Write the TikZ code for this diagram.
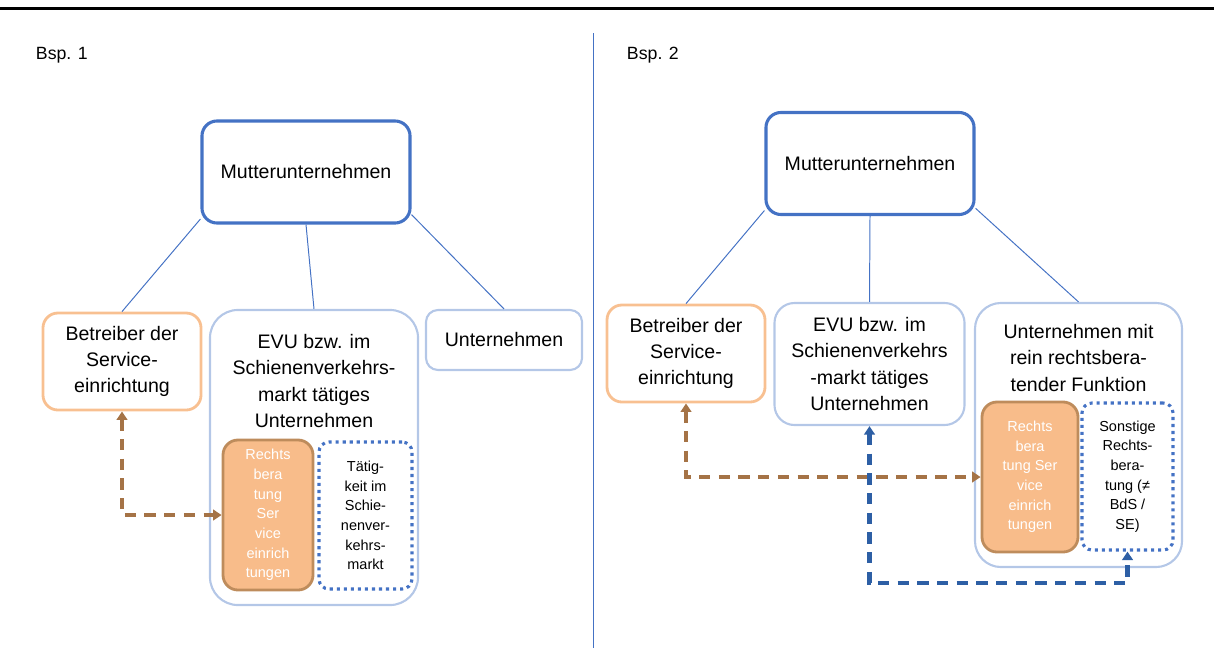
\documentclass[tikz,border=0pt]{standalone}
\usepackage{fontspec}
\setmainfont{Liberation Sans}
\usetikzlibrary{arrows.meta,positioning}

\definecolor{mutterblau}{RGB}{68,114,196}
\definecolor{hellblau}{RGB}{180,199,231}
\definecolor{hellorange}{RGB}{248,192,145}
\definecolor{rbfill}{RGB}{248,188,138}
\definecolor{rbrand}{RGB}{190,140,92}
\definecolor{pfeilbraun}{RGB}{165,115,70}
\definecolor{pfeilblau}{RGB}{45,95,165}

\begin{document}
\begin{tikzpicture}[x=0.025cm,y=-0.025cm,
  gross/.style={font=\fontsize{13.9}{18.5}\selectfont,align=center},
  klein/.style={font=\fontsize{10.3}{14}\selectfont,align=center},
  mutter/.style={rectangle,rounded corners=0.375cm,draw=mutterblau,line width=2.2pt,gross,minimum width=5.2cm,minimum height=2.55cm},
  betreiber/.style={rectangle,rounded corners=0.375cm,draw=hellorange,line width=2pt,gross,minimum width=3.95cm,minimum height=2.425cm},
  hellbox/.style={rectangle,draw=hellblau,line width=1.5pt,gross,inner sep=0pt},
  rechtsbox/.style={rectangle,rounded corners=0.375cm,draw=rbrand,fill=rbfill,line width=2pt,klein,text=white,inner sep=0pt,minimum width=2.3cm,minimum height=3.75cm},
  punktbox/.style={rectangle,rounded corners=0.25cm,draw=mutterblau,line width=2.2pt,dash pattern=on 2.2pt off 2.8pt,klein,inner sep=0pt,minimum width=2.3cm,minimum height=3.675cm},
  verbinder/.style={draw=mutterblau,line width=0.7pt},
  braunpfeil/.style={draw=pfeilbraun,line width=3.2pt,dash pattern=on 8pt off 6pt,{Triangle[length=6pt,width=7.5pt]}-{Triangle[length=6pt,width=7.5pt]}},
  blaupfeil/.style={draw=pfeilblau,line width=3.2pt,dash pattern=on 8pt off 6pt,{Triangle[length=6pt,width=7.5pt]}-{Triangle[length=6pt,width=7.5pt]}}
]
\useasboundingbox (0,0) rectangle (1214,671);

% Kopflinie und Trenner
\coordinate (kopfL) at (0,8.3);
\coordinate (kopfR) at (1214,8.3);
\draw[line width=2.5pt] (kopfL) -- (kopfR);
\coordinate (trennO) at (593,33);
\coordinate (trennU) at (593,648);
\draw[draw=mutterblau,line width=0.7pt] (trennO) -- (trennU);

\node[font=\fontsize{12.6}{15}\selectfont,anchor=west] (bsp1) at (31,55) {Bsp. 1};
\node[font=\fontsize{12.6}{15}\selectfont,anchor=west] (bsp2) at (622,55) {Bsp. 2};

% Bsp. 1
\node[mutter] (mutterA) at (306,172) {Mutterunternehmen};
\node[betreiber] (betrA) at (122,361.5) {Betreiber der\\Service-\\einrichtung};
\node[hellbox,rounded corners=0.7cm,minimum width=5.2cm,minimum height=7.375cm] (evuA) at (314,457.5) {};
\node[gross] (evuAtext) at (314,381) {EVU bzw. im\\Schienenverkehrs-\\markt tätiges\\Unternehmen};
\node[hellbox,rounded corners=0.3cm,minimum width=3.9cm,minimum height=1.5cm] (untA) at (504,340) {Unternehmen};
\node[rechtsbox,minimum width=2.25cm] (rechtsA) at (268,515) {Rechts\\bera\\tung\\Ser\\vice\\einrich\\tungen};
\node[punktbox,minimum width=2.325cm] (taetA) at (365.5,515.5) {Tätig-\\keit im\\Schie-\\nenver-\\kehrs-\\markt};

\draw[verbinder] (mutterA.204) -- (betrA.north);
\draw[verbinder] (mutterA.south) -- (evuA.north);
\draw[verbinder] (mutterA.338) -- (untA.north);
\draw[braunpfeil] (betrA) |- (rechtsA);

% Bsp. 2
\node[mutter] (mutterB) at (870,163.5) {Mutterunternehmen};
\node[betreiber] (betrB) at (686,353.5) {Betreiber der\\Service-\\einrichtung};
\node[hellbox,rounded corners=0.5cm,minimum width=4.75cm,minimum height=3.05cm] (evuB) at (869.5,364) {EVU bzw. im\\Schienenverkehrs\\-markt tätiges\\Unternehmen};
\node[hellbox,rounded corners=0.65cm,minimum width=5.175cm,minimum height=6.6cm] (untB) at (1078.5,435) {};
\node[gross] (untBtext) at (1078.5,358) {Unternehmen mit\\rein rechtsbera-\\tender Funktion};
\node[rechtsbox,minimum width=2.4cm] (rechtsB) at (1030,477) {Rechts\\bera\\tung Ser\\vice\\einrich\\tungen};
\node[punktbox,minimum width=2.275cm] (sonstB) at (1127.5,476.5) {Sonstige\\Rechts-\\bera-\\tung (≠\\BdS /\\SE)};
\coordinate (knickB) at (1000,583);

\draw[verbinder] (mutterB.204) -- (betrB.north);
\draw[verbinder] (mutterB.south) -- (evuB.north);
\draw[verbinder] (mutterB.337) -- (untB.north);
\draw[braunpfeil] (betrB) |- (rechtsB);
\draw[blaupfeil] (evuB) |- (knickB) -| (sonstB);
\end{tikzpicture}
\end{document}
